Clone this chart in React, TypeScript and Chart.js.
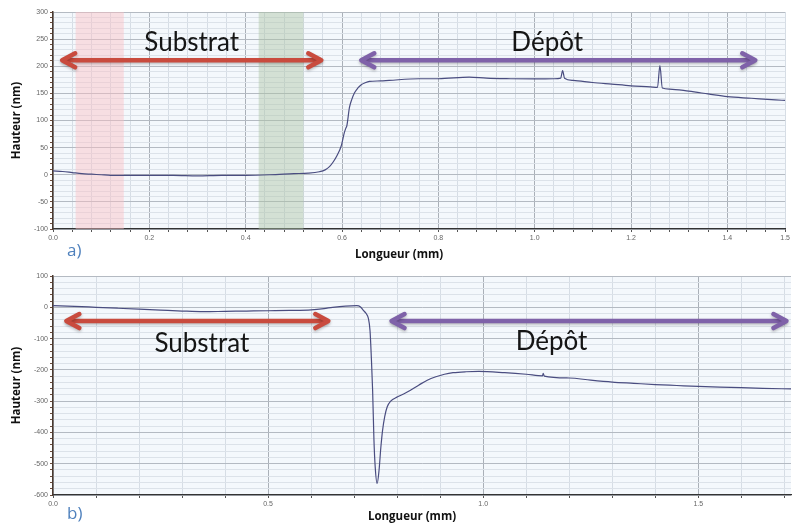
import React, { useEffect, useRef } from "react";
import { Chart, registerables } from "chart.js";
Chart.register(...registerables);

// ---------- Data: profile a) ----------
const topX = [0.0, 0.02, 0.04, 0.06, 0.08, 0.1, 0.12, 0.14, 0.17, 0.2, 0.25, 0.3, 0.35, 0.4, 0.45, 0.5, 0.53, 0.553, 0.565, 0.574, 0.582, 0.59, 0.598, 0.605, 0.608, 0.61, 0.6155, 0.62, 0.626, 0.633, 0.64, 0.648, 0.657, 0.68, 0.698, 0.76, 0.8, 0.864, 0.9, 0.95, 1.0, 1.04, 1.054, 1.058, 1.062, 1.08, 1.12, 1.16, 1.2, 1.24, 1.255, 1.26, 1.265, 1.28, 1.32, 1.36, 1.4, 1.45, 1.5, 1.52];
const topY = [7, 6, 4, 2, 1, 0, -1, -1, -1, -1, -1, -2, -1, -1, 0, 2, 3, 5.6, 9, 15, 24, 36, 52, 78, 86, 90, 124, 138, 151, 160, 166, 169.5, 172, 173, 174, 177, 177, 180, 178, 177, 176.6, 177, 178, 192, 178, 174, 170, 167, 164, 162, 161, 201, 160, 158, 154, 149, 144, 141, 138, 137];

// ---------- Data: profile b) ----------
const bottomX = [0.0, 0.05, 0.1, 0.15, 0.2, 0.25, 0.3, 0.35, 0.4, 0.45, 0.5, 0.55, 0.6, 0.63, 0.65, 0.68, 0.706, 0.715, 0.721, 0.728, 0.733, 0.737, 0.74, 0.743, 0.746, 0.749, 0.7535, 0.758, 0.762, 0.766, 0.771, 0.777, 0.785, 0.8, 0.815, 0.83, 0.85, 0.87, 0.89, 0.91, 0.93, 0.96, 0.99, 1.05, 1.1, 1.138, 1.1395, 1.142, 1.2, 1.25, 1.3, 1.35, 1.4, 1.45, 1.5, 1.55, 1.6, 1.65, 1.716];
const bottomY = [5, 3, 0, -3, -6, -9, -12, -14, -13, -12, -11, -10, -8, -4, 0, 4, 5, 1, -9, -20, -35, -75, -160, -265, -420, -510, -563, -520, -450, -395, -350, -318, -300, -287, -277, -266, -249, -233, -222, -214, -209, -206, -205, -209, -214, -219, -211, -220, -226, -233, -239, -243, -247, -250, -253, -255, -257, -259, -261];

// ---------- Axis ranges / ticks ----------
const topXRange = [0, 1.52];
const topYRange = [-100, 300];
const bottomXRange = [0, 1.7156];
const bottomYRange = [-600, 100];

// ---------- Annotations (data units) ----------
const topBands = [
  { from: 0.047, to: 0.147, color: "rgba(250,190,195,0.45)" },
  { from: 0.427, to: 0.52, color: "rgba(170,195,165,0.45)" },
];
const topArrows = [
  { from: 0.019, to: 0.557, y: 211, color: "#c94b3e" },
  { from: 0.64, to: 1.458, y: 211, color: "#7f62a9" },
];
const topTexts = [
  { text: "Substrat", x: 0.288, y: 243 },
  { text: "Dépôt", x: 1.026, y: 243 },
];
const bottomArrows = [
  { from: 0.031, to: 0.64, y: -44, color: "#c94b3e" },
  { from: 0.787, to: 1.705, y: -44, color: "#7f62a9" },
];
const bottomTexts = [
  { text: "Substrat", x: 0.346, y: -115 },
  { text: "Dépôt", x: 1.159, y: -110 },
];

const LINE_COLOR = "#4a4d80";
const BIG_FONT = '26px Lato, "Open Sans", sans-serif';
const TITLE_FONT = 'bold 11.5px "Open Sans", "Liberation Sans", sans-serif';

function drawArrow(ctx: CanvasRenderingContext2D, x1: number, x2: number, y: number, color: string) {
  ctx.save();
  ctx.strokeStyle = color;
  ctx.lineWidth = 4.5;
  ctx.lineCap = "round";
  ctx.lineJoin = "round";
  ctx.shadowColor = "rgba(0,0,0,0.25)";
  ctx.shadowBlur = 3;
  ctx.shadowOffsetY = 1.5;
  const h = 13, w = 7;
  ctx.beginPath();
  ctx.moveTo(x1 + 2, y);
  ctx.lineTo(x2 - 2, y);
  ctx.stroke();
  ctx.beginPath();
  ctx.moveTo(x1 + h, y - w);
  ctx.lineTo(x1, y);
  ctx.lineTo(x1 + h, y + w);
  ctx.stroke();
  ctx.beginPath();
  ctx.moveTo(x2 - h, y - w);
  ctx.lineTo(x2, y);
  ctx.lineTo(x2 - h, y + w);
  ctx.stroke();
  ctx.restore();
}

type Panel = {
  xs: number[];
  ys: number[];
  xRange: number[];
  yRange: number[];
  xStep: number;
  xMajor: number;
  yStep: number;
  yMajor: number;
  xLabelEnd?: string;
  bands: { from: number; to: number; color: string }[];
  arrows: { from: number; to: number; y: number; color: string }[];
  texts: { text: string; x: number; y: number }[];
  letter: string;
  padTop: number;
  padRight: number;
  xAxisHeight: number;
  xTitleShift: number;
  xTitleOffset: number;
  letterOffset: number;
};

function isMultiple(v: number, m: number) {
  const r = v / m;
  return Math.abs(r - Math.round(r)) < 1e-6;
}

function buildConfig(p: Panel): any {
  const decor = {
    id: "decor" + p.letter,
    beforeDraw(chart: any) {
      const { ctx, chartArea: a } = chart;
      ctx.save();
      ctx.fillStyle = "#ffffff";
      ctx.fillRect(0, 0, chart.width, chart.height);
      ctx.fillStyle = "#f4f8fc";
      ctx.fillRect(a.left, a.top, a.right - a.left, a.bottom - a.top);
      ctx.restore();
    },
    beforeDatasetsDraw(chart: any) {
      const { ctx, chartArea: a, scales } = chart;
      ctx.save();
      for (const b of p.bands) {
        const x1 = scales.x.getPixelForValue(b.from);
        const x2 = scales.x.getPixelForValue(b.to);
        ctx.fillStyle = b.color;
        ctx.fillRect(x1, a.top, x2 - x1, a.bottom - a.top);
      }
      ctx.restore();
    },
    afterDatasetsDraw(chart: any) {
      const { ctx, chartArea: a, scales } = chart;
      for (const ar of p.arrows) {
        drawArrow(
          ctx,
          scales.x.getPixelForValue(ar.from),
          scales.x.getPixelForValue(ar.to),
          scales.y.getPixelForValue(ar.y),
          ar.color
        );
      }
      ctx.save();
      ctx.fillStyle = "#151515";
      ctx.font = BIG_FONT;
      ctx.textAlign = "center";
      ctx.textBaseline = "middle";
      for (const t of p.texts) {
        ctx.fillText(t.text, scales.x.getPixelForValue(t.x), scales.y.getPixelForValue(t.y));
      }
      // axis titles
      ctx.fillStyle = "#111";
      ctx.font = TITLE_FONT;
      ctx.fillText("Longueur (mm)", (a.left + a.right) / 2 + p.xTitleShift, a.bottom + p.xTitleOffset);
      ctx.save();
      ctx.translate(a.left - 36, (a.top + a.bottom) / 2);
      ctx.rotate(-Math.PI / 2);
      ctx.fillText("Hauteur (nm)", 0, 0);
      ctx.restore();
      // panel letter
      ctx.fillStyle = "#4f81bd";
      ctx.font = '17px "Open Sans", sans-serif';
      ctx.textAlign = "left";
      ctx.fillText(p.letter, a.left + 14, a.bottom + p.letterOffset);
      ctx.restore();
    },
  };

  const xTicks: number[] = [];
  for (let i = 0; p.xRange[0] + i * p.xStep <= p.xRange[1] + 1e-9; i++) xTicks.push(+(p.xRange[0] + i * p.xStep).toFixed(4));
  if (p.xLabelEnd && Math.abs(xTicks[xTicks.length - 1] - p.xRange[1]) > 1e-6) xTicks.push(p.xRange[1]);
  const yTicks: number[] = [];
  for (let v = p.yRange[0]; v <= p.yRange[1]; v += p.yStep) yTicks.push(v);

  return {
    type: "scatter",
    data: {
      datasets: [
        {
          data: p.xs.map((x, i) => ({ x, y: p.ys[i] })),
          showLine: true,
          borderColor: LINE_COLOR,
          borderWidth: 1.2,
          pointRadius: 0,
          cubicInterpolationMode: "monotone",
        },
      ],
    },
    options: {
      responsive: false,
      animation: false,
      events: [],
      layout: { padding: { top: p.padTop, right: p.padRight, left: 0, bottom: 0 } },
      plugins: { legend: { display: false }, tooltip: { enabled: false } },
      scales: {
        x: {
          type: "linear",
          min: p.xRange[0],
          max: p.xRange[1],
          afterBuildTicks: (s: any) => {
            s.ticks = xTicks.map((v) => ({ value: v }));
          },
          afterFit: (s: any) => {
            s.height = p.xAxisHeight;
          },
          ticks: {
            autoSkip: false,
            maxRotation: 0,
            padding: 2,
            color: "#666",
            font: { size: 7, family: '"Liberation Sans", sans-serif' },
            callback: (v: number) => {
              if (p.xLabelEnd && Math.abs(v - p.xRange[1]) < 1e-6 && !isMultiple(v, p.xMajor)) return p.xLabelEnd;
              return isMultiple(v, p.xMajor) ? v.toFixed(1) : "";
            },
          },
          grid: {
            color: (c: any) => (c.tick && isMultiple(c.tick.value, p.xMajor) ? "#aab0b8" : "#d6dde5"),
            tickColor: "#555",
            tickLength: 3,
          },
          border: { color: "#333", width: 1.2 },
        },
        y: {
          type: "linear",
          min: p.yRange[0],
          max: p.yRange[1],
          afterBuildTicks: (s: any) => {
            s.ticks = yTicks.map((v) => ({ value: v }));
          },
          afterFit: (s: any) => {
            s.width = 53;
          },
          ticks: {
            autoSkip: false,
            padding: 2,
            color: "#666",
            font: { size: 7, family: '"Liberation Sans", sans-serif' },
            callback: (v: number) => (isMultiple(v, p.yMajor) ? String(v) : ""),
          },
          grid: {
            color: (c: any) => (c.tick && isMultiple(c.tick.value, p.yMajor) ? "#b4bac2" : "#dce2e9"),
            tickColor: "#6b4a3a",
            tickLength: 3,
          },
          border: { color: "#4a3a30", width: 1.5 },
        },
      },
    },
    plugins: [decor],
  };
}

const topPanel: Panel = {
  xs: topX,
  ys: topY,
  xRange: topXRange,
  yRange: topYRange,
  xStep: 0.04,
  xMajor: 0.2,
  yStep: 10,
  yMajor: 50,
  xLabelEnd: "1.5",
  bands: topBands,
  arrows: topArrows,
  texts: topTexts,
  letter: "a)",
  padTop: 12,
  padRight: 6,
  xAxisHeight: 33,
  xTitleShift: -20,
  xTitleOffset: 26,
  letterOffset: 22,
};

const bottomPanel: Panel = {
  xs: bottomX,
  ys: bottomY,
  xRange: bottomXRange,
  yRange: bottomYRange,
  xStep: 0.1,
  xMajor: 0.5,
  yStep: 20,
  yMajor: 100,
  bands: [],
  arrows: bottomArrows,
  texts: bottomTexts,
  letter: "b)",
  padTop: 14,
  padRight: 1,
  xAxisHeight: 29,
  xTitleShift: -10,
  xTitleOffset: 22,
  letterOffset: 19,
};

function PanelChart({ panel, top }: { panel: Panel; top: number }) {
  const ref = useRef<HTMLCanvasElement | null>(null);
  useEffect(() => {
    if (!ref.current) return;
    const chart = new Chart(ref.current, buildConfig(panel));
    return () => chart.destroy();
  }, [panel]);
  return (
    <canvas
      ref={ref}
      width={792}
      height={262}
      style={{ position: "absolute", left: 0, top, width: 792, height: 262, display: "block" }}
    />
  );
}

export default function App() {
  return (
    <div
      style={{
        position: "fixed",
        left: 0,
        top: 0,
        width: 792,
        height: 524,
        overflow: "hidden",
        background: "#fff",
      }}
    >
      <PanelChart panel={topPanel} top={0} />
      <PanelChart panel={bottomPanel} top={262} />
    </div>
  );
}
